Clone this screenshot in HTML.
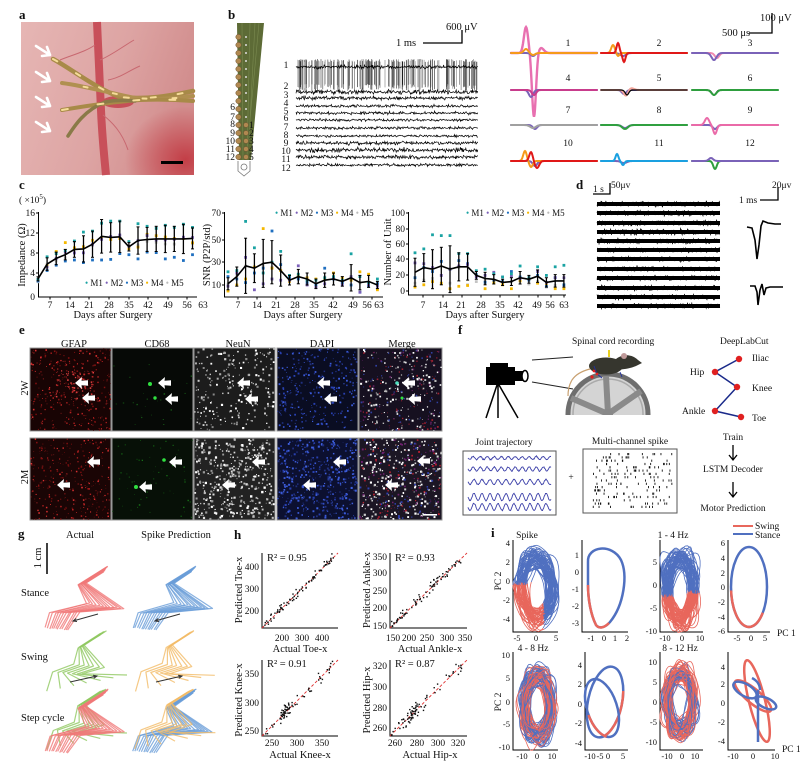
<!DOCTYPE html>
<html><head><meta charset="utf-8">
<style>
html,body{margin:0;padding:0;background:#fff;width:800px;height:772px;overflow:hidden}
svg{display:block}
text{font-family:"Liberation Serif",serif;fill:#111}
.t8{font-size:8.5px}.t9{font-size:9.5px}.t10{font-size:10.5px}
.lg{font-size:9px}
.pl{font-family:"Liberation Serif",serif;font-weight:bold;font-size:13px}
.m{text-anchor:middle}.e{text-anchor:end}
.ax{stroke:#000;stroke-width:1;fill:none}
</style></head><body>
<svg id="s" width="800" height="772" viewBox="0 0 800 772" xmlns="http://www.w3.org/2000/svg">
<defs>
<linearGradient id="pg" x1="0" y1="0" x2="1" y2="0.3"><stop offset="0" stop-color="#e6b6b4"/><stop offset="0.6" stop-color="#dda4a3"/><stop offset="1" stop-color="#d28e8e"/></linearGradient>
<radialGradient id="pr" cx="0.95" cy="0.9" r="0.35"><stop offset="0" stop-color="#c0303a" stop-opacity="0.85"/><stop offset="1" stop-color="#c0303a" stop-opacity="0"/></radialGradient>
<path id="ar" d="M0 0 L7 -6 L6.5 -2.2 L13 -2.8 L13 2.8 L6.5 2.2 L7 6 Z" fill="#fff"/>
<clipPath id="wc"><rect x="560" y="360" width="100" height="55"/></clipPath>
</defs>

<!-- panel a -->
<rect x="21" y="22" width="173" height="153" fill="url(#pg)"/>
<rect x="21" y="22" width="173" height="153" fill="url(#pr)"/>
<path d="M97 22 C99 60 100 90 101 110 C102 135 104 155 106 175" stroke="#c8505a" stroke-width="8" fill="none"/>
<ellipse cx="118" cy="102" rx="16" ry="6" fill="#c65058"/>
<path d="M100 60 C112 55 122 47 134 40 M103 115 C112 122 122 132 128 150 M95 45 C85 52 72 55 60 60 M108 80 C120 78 130 70 140 66" stroke="#c86870" stroke-width="1" fill="none"/>
<g fill="none" stroke-linecap="round">
<path d="M53 59 C70 68 95 88 120 97 C145 100 170 96 193 91" stroke="#a88a48" stroke-width="4.5"/>
<path d="M62 83 C85 86 110 93 135 98 C160 100 180 98 193 96" stroke="#b09050" stroke-width="4"/>
<path d="M62 110 C85 106 110 102 140 100 C165 99 180 100 193 101" stroke="#a88a48" stroke-width="4"/>
<path d="M68 136 C75 125 85 110 105 102 C115 100 125 100 135 101" stroke="#8a7a48" stroke-width="3.5"/>
<path d="M53 59 C70 68 95 88 120 97 C145 100 170 96 193 91" stroke="#f6dc98" stroke-width="2" stroke-dasharray="5 22"/>
<path d="M62 83 C85 86 110 93 135 98 C160 100 180 98 193 96" stroke="#f6dc98" stroke-width="2" stroke-dasharray="4 26" stroke-dashoffset="8"/>
<path d="M62 110 C85 106 110 102 140 100 C165 99 180 100 193 101" stroke="#f6dc98" stroke-width="2" stroke-dasharray="6 30"/>
</g>
<g stroke="#fff" stroke-width="2.6" fill="none" stroke-linecap="round" stroke-linejoin="round">
<path d="M36 46 L50 55 M42 56 L50 55 L47 47"/>
<path d="M36 72 L50 81 M42 82 L50 81 L47 73"/>
<path d="M36 97 L50 106 M42 107 L50 106 L47 98"/>
<path d="M36 122 L50 131 M42 132 L50 131 L47 123"/>
</g>
<rect x="161" y="161" width="22" height="3" fill="#000"/>

<!-- panel b probe -->
<polygon points="237,23 264,23 251,160 239,160" fill="#5d6b36"/>
<path d="M242 23 L243 160 M250 23 L247 160 M255 23 L249 140 M259 23 L250 120" stroke="#7a8a50" stroke-width="0.6"/>
<g fill="#b08850" stroke="#6a5030" stroke-width="0.5">
<circle cx="238.5" cy="37" r="2.7"/><circle cx="238.5" cy="45" r="2.7"/><circle cx="238.5" cy="53" r="2.7"/><circle cx="238.5" cy="61" r="2.7"/><circle cx="238.5" cy="69" r="2.7"/><circle cx="238.5" cy="77" r="2.7"/><circle cx="238.5" cy="85" r="2.7"/><circle cx="238.5" cy="93" r="2.7"/><circle cx="238.5" cy="101" r="2.7"/><circle cx="238.5" cy="109" r="2.7"/><circle cx="238.5" cy="117" r="2.7"/><circle cx="238.5" cy="125" r="2.7"/><circle cx="238.5" cy="133" r="2.7"/><circle cx="238.5" cy="141" r="2.7"/><circle cx="238.5" cy="149" r="2.7"/><circle cx="238.5" cy="157" r="2.7"/>
<circle cx="246" cy="125" r="2.5"/><circle cx="246" cy="133" r="2.5"/><circle cx="246" cy="141" r="2.5"/><circle cx="246" cy="149" r="2.5"/><circle cx="246" cy="157" r="2.5"/>
</g>
<g fill="#ddd"><circle cx="246" cy="37" r="1"/><circle cx="246" cy="45" r="1"/><circle cx="246" cy="53" r="1"/><circle cx="246" cy="61" r="1"/><circle cx="246" cy="69" r="1"/><circle cx="246" cy="77" r="1"/><circle cx="246" cy="85" r="1"/><circle cx="246" cy="93" r="1"/><circle cx="246" cy="101" r="1"/><circle cx="246" cy="109" r="1"/><circle cx="246" cy="117" r="1"/></g>
<path d="M238 161 L238 171 L244 176 L250 171 L250 161" fill="none" stroke="#777" stroke-width="0.8"/>
<circle cx="244" cy="167" r="3" fill="none" stroke="#777" stroke-width="0.8"/>
<path d="M423 43 L462 43 L462 30" stroke="#000" stroke-width="1.3" fill="none"/>
<path d="M749 33 L772 33 L772 13" stroke="#000" stroke-width="1.3" fill="none"/>

<!-- panel c axes -->
<g class="ax">
<path d="M38.5 212 L38.5 297 L197 297"/>
<path d="M36 213 L38.5 213 M36 233 L38.5 233 M36 253 L38.5 253 M36 273 L38.5 273 M50 297 V299.5 M70 297 V299.5 M89 297 V299.5 M109 297 V299.5 M129 297 V299.5 M148 297 V299.5 M168 297 V299.5 M187 297 V299.5"/>
<path d="M224.5 212 L224.5 297 L383 297"/>
<path d="M222 213 L224.5 213 M222 240 L224.5 240 M222 262 L224.5 262 M222 285 L224.5 285 M238 297 V299.5 M257 297 V299.5 M276 297 V299.5 M295 297 V299.5 M314 297 V299.5 M333 297 V299.5 M353 297 V299.5 M372 297 V299.5"/>
<path d="M408.5 212 L408.5 295 L566 295"/>
<path d="M406 213 L408.5 213 M406 229 L408.5 229 M406 244 L408.5 244 M406 259 L408.5 259 M406 275 L408.5 275 M406 291 L408.5 291 M423 295 V297.5 M443 295 V297.5 M462 295 V297.5 M481 295 V297.5 M500 295 V297.5 M519 295 V297.5 M538 295 V297.5 M551 295 V297.5 M564 295 V297.5"/>
</g>

<!-- panel d static -->
<g fill="#000">
<rect x="597" y="202" width="123" height="4"/><rect x="597" y="211" width="123" height="4"/><rect x="597" y="221" width="123" height="4"/><rect x="597" y="230" width="123" height="4"/><rect x="597" y="239" width="123" height="4"/><rect x="597" y="248" width="123" height="4"/><rect x="597" y="257" width="123" height="4"/><rect x="597" y="267" width="123" height="4"/><rect x="597" y="276" width="123" height="4"/><rect x="597" y="286" width="123" height="4"/><rect x="597" y="295" width="123" height="4"/><rect x="597" y="304" width="123" height="4"/>
</g>
<path d="M593 194 L610 194 L610 183 M760 200 L778 200 L778 187" stroke="#000" stroke-width="1.3" fill="none"/>
<path d="M747 227 L752 228 L755 240 L757 259 L759 245 L761 226 L763 221 L768 223 L775 224 L781 224" stroke="#000" stroke-width="1.6" fill="none"/>
<path d="M750 286 L755 286 L757 292 L758 305 L760 290 L762 284 L764 295 L766 288 L770 287 L783 287" stroke="#000" stroke-width="1.6" fill="none"/>

<!-- panel e backgrounds -->
<g stroke="#999" stroke-width="1">
<rect x="30" y="348" width="81" height="83" fill="#180404"/>
<rect x="112" y="348" width="81" height="83" fill="#060906"/>
<rect x="194" y="348" width="81" height="83" fill="#1c1c1c"/>
<rect x="277" y="348" width="81" height="83" fill="#0a0d22"/>
<rect x="359" y="348" width="83" height="83" fill="#161020"/>
<rect x="30" y="438" width="81" height="82" fill="#1a0505"/>
<rect x="112" y="438" width="81" height="82" fill="#071007"/>
<rect x="194" y="438" width="81" height="82" fill="#222"/>
<rect x="277" y="438" width="81" height="82" fill="#0c1030"/>
<rect x="359" y="438" width="83" height="82" fill="#1c1624"/>
</g>
<g id="eimg"></g>
<g fill="#30e040">
<circle cx="150" cy="384" r="2"/><circle cx="155" cy="398" r="1.7"/><circle cx="164" cy="460" r="1.8"/><circle cx="136" cy="487" r="2"/>
<circle cx="397" cy="383" r="1.8" fill="#50e0c0"/><circle cx="402" cy="398" r="1.5"/>
</g>
<g>
<use href="#ar" x="75" y="383"/><use href="#ar" x="82" y="398"/><use href="#ar" x="158" y="383"/><use href="#ar" x="165" y="399"/><use href="#ar" x="237" y="383"/><use href="#ar" x="245" y="399"/><use href="#ar" x="317" y="383"/><use href="#ar" x="324" y="399"/><use href="#ar" x="402" y="383"/><use href="#ar" x="408" y="399"/>
<use href="#ar" x="87" y="462"/><use href="#ar" x="57" y="485"/><use href="#ar" x="169" y="462"/><use href="#ar" x="139" y="487"/><use href="#ar" x="252" y="462"/><use href="#ar" x="222" y="485"/><use href="#ar" x="333" y="462"/><use href="#ar" x="303" y="485"/><use href="#ar" x="417" y="461"/><use href="#ar" x="385" y="485"/>
</g>
<rect x="423" y="514" width="14" height="1.6" fill="#fff"/>

<!-- panel f -->
<rect x="486" y="367" width="29" height="18" fill="#000"/>
<rect x="490" y="363" width="18" height="5" fill="#000"/>
<rect x="515" y="371" width="9" height="10" fill="#000"/>
<ellipse cx="525" cy="376" rx="3" ry="5.5" fill="#fff" stroke="#000" stroke-width="1.5"/>
<path d="M497 385 L486 418 M498 385 L498 418 M499 385 L518 418" stroke="#000" stroke-width="1.5"/>
<path d="M532 360 L573 357 M532 382 L573 389" stroke="#222" stroke-width="1"/>
<g clip-path="url(#wc)">
<circle cx="608" cy="414" r="38" fill="#d4d4d4"/>
<circle cx="608" cy="414" r="40" fill="none" stroke="#6e6e6e" stroke-width="5"/>
<circle cx="608" cy="414" r="35" fill="none" stroke="#aaa" stroke-width="1.5"/>
<path d="M608 414 L571 398 M608 414 L606 376 M608 414 L641 391" stroke="#8a8a8a" stroke-width="6"/>
<circle cx="608" cy="414" r="5" fill="#888"/>
</g>
<path d="M590 369 C582 371 576 374 572 380 C569 385 568 390 568 396" stroke="#c8a070" stroke-width="1.2" fill="none"/>
<ellipse cx="606" cy="366" rx="17" ry="8.5" fill="#36362e"/>
<path d="M616 359 C624 353 633 355 638 360 L642 363 L636 366 C629 369 621 370 615 369 Z" fill="#36362e"/>
<circle cx="624" cy="356" r="3" fill="#c09a9a"/>
<rect x="608" y="350" width="2" height="7" fill="#e8d020"/>
<path d="M594 366 L597 374 L602 378 M620 372 L622 377" stroke="#2030a0" stroke-width="0.9" fill="none"/>
<circle cx="592" cy="377" r="1.6" fill="#e02020"/><circle cx="594" cy="371" r="1.4" fill="#e02020"/><circle cx="597" cy="374" r="1.4" fill="#e02020"/>
<path d="M739 359 L715 372 L737 387 L715 411 L741 417" stroke="#1a2a8a" stroke-width="1.5" fill="none"/>
<g fill="#e02020"><circle cx="739" cy="359" r="3.2"/><circle cx="715" cy="372" r="3.2"/><circle cx="737" cy="387" r="3.2"/><circle cx="715" cy="411" r="3.2"/><circle cx="741" cy="417" r="3.2"/></g>
<path d="M733 445 L733 460 M729 455 L733 460 L737 455 M733 482 L733 497 M729 492 L733 497 L737 492" stroke="#000" stroke-width="1.3" fill="none"/>
<rect x="463" y="451" width="93" height="64" fill="#fff" stroke="#555" stroke-width="1"/>
<rect x="583" y="449" width="94" height="64" fill="#fff" stroke="#555" stroke-width="1"/>

<!-- panel g -->
<path d="M47 543 L47 574" stroke="#000" stroke-width="1.5"/>

<!-- panel h axes -->
<g class="ax">
<path d="M262 553 L262 628 L338 628"/>
<path d="M390 553 L390 628 L467 628"/>
<path d="M262 660 L262 736 L338 736"/>
<path d="M390 660 L390 736 L467 736"/>
</g>
<g stroke="#e03030" stroke-width="0.9" stroke-dasharray="3 2">
<path d="M262 628 L338 553"/><path d="M390 628 L467 553"/><path d="M262 736 L338 660"/><path d="M390 736 L467 660"/>
</g>

<!-- panel i axes -->
<g class="ax">
<path d="M513 540 L513 632 L558 632"/><path d="M582 540 L582 632 L628 632"/><path d="M660 540 L660 632 L703 632"/><path d="M728 540 L728 632 L770 632"/>
<path d="M513 652 L513 750 L558 750"/><path d="M585 652 L585 750 L628 750"/><path d="M660 652 L660 750 L703 750"/><path d="M728 652 L728 750 L775 750"/>
</g>
<g fill="none" stroke-width="2.5">
<path d="M588 562 C587 546 612 543 621 560 C628 575 624 605 610 622 C605 628 599 629 596 625 C591 615 588 600 588 585 Z" stroke="#5070c0"/>
<path d="M588 585 C588 600 591 615 596 625 C599 629 604 628 609 623" stroke="#e8675c"/>
<ellipse cx="749" cy="587" rx="18" ry="40" stroke="#5070c0"/>
<path d="M731.1 590.5 A18 40 0 0 0 762.8 612.7" stroke="#e8675c"/>
<ellipse cx="605" cy="702" rx="17" ry="36" transform="rotate(12 605 702)" stroke="#5070c0"/>
<ellipse cx="605" cy="702" rx="17" ry="36" transform="rotate(12 605 702)" stroke="#e8675c" stroke-dasharray="35 122 20"/>
<ellipse cx="602" cy="708" rx="15" ry="30" transform="rotate(-18 602 708)" stroke="#5070c0"/>
<ellipse cx="602" cy="708" rx="15" ry="30" transform="rotate(-18 602 708)" stroke="#e8675c" stroke-dasharray="0 41 29 79"/>
<ellipse cx="757" cy="701" rx="8" ry="42" transform="rotate(-14 757 701)" stroke="#e8675c"/>
<ellipse cx="753" cy="696" rx="23" ry="7" transform="rotate(40 753 696)" stroke="#e8675c"/>
<ellipse cx="745" cy="690" rx="13" ry="6" transform="rotate(30 745 690)" stroke="#5070c0"/>
<ellipse cx="766" cy="703" rx="11" ry="5" transform="rotate(25 766 703)" stroke="#5070c0"/>
<path d="M758 690 L758 742 M752 678 C756 680 760 684 760 690" stroke="#5070c0"/>
</g>
<path d="M733 526 L753 526" stroke="#e8675c" stroke-width="2"/>
<path d="M733 534 L753 534" stroke="#5070c0" stroke-width="2"/>

<g id="dyn"></g>

<!-- ============ TEXT ============ -->
<text x="19" y="19" class="pl">a</text>
<text x="228" y="19" class="pl">b</text>
<text x="19" y="189" class="pl">c</text>
<text x="576" y="189" class="pl">d</text>
<text x="19" y="334" class="pl">e</text>
<text x="458" y="334" class="pl">f</text>
<text x="18" y="538" class="pl">g</text>
<text x="234" y="539" class="pl">h</text>
<text x="491" y="537" class="pl">i</text>

<!-- b -->
<text x="446" y="30" class="t10">600 μV</text>
<text x="396" y="46" class="t10">1 ms</text>
<g class="t9 m">
<text x="286" y="68">1</text><text x="286" y="89">2</text><text x="286" y="98">3</text><text x="286" y="106">4</text><text x="286" y="114">5</text><text x="286" y="121">6</text><text x="286" y="130">7</text><text x="286" y="138">8</text><text x="286" y="146">9</text><text x="286" y="154">10</text><text x="286" y="162">11</text><text x="286" y="171">12</text>
</g>
<g class="t9 e">
<text x="235" y="110">6</text><text x="235" y="120">7</text><text x="235" y="127">8</text><text x="235" y="136">9</text><text x="235" y="144">10</text><text x="235" y="152">11</text><text x="235" y="160">12</text>
</g>
<g class="t9">
<text x="249" y="128">1</text><text x="249" y="136">2</text><text x="249" y="144">3</text><text x="249" y="152">4</text><text x="249" y="160">5</text>
</g>
<g class="t9 m">
<text x="568" y="46">1</text><text x="659" y="46">2</text><text x="750" y="46">3</text>
<text x="568" y="81">4</text><text x="659" y="81">5</text><text x="750" y="81">6</text>
<text x="568" y="113">7</text><text x="659" y="113">8</text><text x="750" y="113">9</text>
<text x="568" y="146">10</text><text x="659" y="146">11</text><text x="750" y="146">12</text>
</g>
<text x="760" y="21" class="t10">100 μV</text>
<text x="722" y="36" class="t10">500 μs</text>

<!-- c -->
<text x="19" y="203" class="t9">( ×10<tspan dy="-4" font-size="7">5</tspan><tspan dy="4">)</tspan></text>
<g class="t9 e">
<text x="35" y="216">16</text><text x="35" y="236">12</text><text x="35" y="256">8</text><text x="35" y="276">4</text><text x="35" y="300">0</text>
<text x="221" y="216">70</text><text x="221" y="243">50</text><text x="221" y="265">30</text><text x="221" y="288">10</text>
<text x="405" y="216">100</text><text x="405" y="232">80</text><text x="405" y="247">60</text><text x="405" y="262">40</text><text x="405" y="278">20</text><text x="405" y="294">0</text>
</g>
<g class="t9 m">
<text x="50" y="308">7</text><text x="70" y="308">14</text><text x="89" y="308">21</text><text x="109" y="308">28</text><text x="129" y="308">35</text><text x="148" y="308">42</text><text x="168" y="308">49</text><text x="187" y="308">56</text><text x="203" y="308">63</text>
<text x="238" y="308">7</text><text x="257" y="308">14</text><text x="276" y="308">21</text><text x="295" y="308">28</text><text x="314" y="308">35</text><text x="333" y="308">42</text><text x="353" y="308">49</text><text x="367" y="308">56</text><text x="379" y="308">63</text>
<text x="423" y="308">7</text><text x="443" y="308">14</text><text x="461" y="308">21</text><text x="481" y="308">28</text><text x="500" y="308">35</text><text x="518" y="308">42</text><text x="537" y="308">49</text><text x="550" y="308">56</text><text x="564" y="308">63</text>
</g>
<g class="t10 m">
<text x="113" y="318">Days after Surgery</text>
<text x="303" y="318">Days after Surgery</text>
<text x="485" y="318">Days after Surgery</text>
<text transform="translate(25,255) rotate(-90)">Impedance (Ω)</text>
<text transform="translate(210,255) rotate(-90)">SNR (P2P/std)</text>
<text transform="translate(391,252) rotate(-90)">Number of Unit</text>
</g>
<text x="85" y="286" class="lg"><tspan fill="#1aa3a3">•</tspan> M1 <tspan fill="#7b5fb8">•</tspan> M2 <tspan fill="#1f6fc0">•</tspan> M3 <tspan fill="#f5b800">•</tspan> M4 <tspan fill="#bbb">•</tspan> M5</text>
<text x="275" y="216" class="lg"><tspan fill="#1aa3a3">•</tspan> M1 <tspan fill="#7b5fb8">•</tspan> M2 <tspan fill="#1f6fc0">•</tspan> M3 <tspan fill="#f5b800">•</tspan> M4 <tspan fill="#bbb">•</tspan> M5</text>
<text x="466" y="216" class="lg"><tspan fill="#1aa3a3">•</tspan> M1 <tspan fill="#7b5fb8">•</tspan> M2 <tspan fill="#1f6fc0">•</tspan> M3 <tspan fill="#f5b800">•</tspan> M4 <tspan fill="#bbb">•</tspan> M5</text>

<!-- d -->
<text x="593" y="192" class="t9">1 s</text>
<text x="611" y="188" class="t9">50μv</text>
<text x="772" y="188" class="t9">20μv</text>
<text x="739" y="203" class="t9">1 ms</text>

<!-- e -->
<g class="t10 m">
<text x="74" y="347">GFAP</text><text x="157" y="347">CD68</text><text x="238" y="347">NeuN</text><text x="322" y="347">DAPI</text><text x="402" y="347">Merge</text>
<text transform="translate(28,388) rotate(-90)">2W</text>
<text transform="translate(28,477) rotate(-90)">2M</text>
</g>

<!-- f -->
<g class="t9">
<text x="572" y="344">Spinal cord recording</text>
<text x="720" y="344">DeepLabCut</text>
<text x="752" y="361">Iliac</text><text x="690" y="375">Hip</text><text x="752" y="391">Knee</text><text x="682" y="414">Ankle</text><text x="752" y="421">Toe</text>
</g>
<g class="t9 m">
<text x="733" y="440">Train</text><text x="733" y="472">LSTM Decoder</text><text x="733" y="511">Motor Prediction</text>
<text x="504" y="445">Joint trajectory</text><text x="630" y="444">Multi-channel spike</text>
<text x="571" y="480">+</text>
</g>

<!-- g -->
<g class="t10">
<text x="80" y="538" class="m">Actual</text><text x="176" y="538" class="m">Spike Prediction</text>
<text transform="translate(41,558) rotate(-90)" class="m">1 cm</text>
<text x="21" y="596">Stance</text><text x="21" y="660">Swing</text><text x="21" y="721">Step cycle</text>
</g>

<!-- h -->
<g class="t10">
<text x="267" y="561">R² = 0.95</text><text x="395" y="561">R² = 0.93</text><text x="267" y="667">R² = 0.91</text><text x="395" y="667">R² = 0.87</text>
</g>
<g class="t9 e">
<text x="259" y="570">400</text><text x="259" y="592">300</text><text x="259" y="614">200</text>
<text x="387" y="560">350</text><text x="387" y="576">300</text><text x="387" y="594">250</text><text x="387" y="611">200</text><text x="387" y="629">150</text>
<text x="259" y="677">350</text><text x="259" y="706">300</text><text x="259" y="734">250</text>
<text x="387" y="669">320</text><text x="387" y="690">300</text><text x="387" y="711">280</text><text x="387" y="731">260</text>
</g>
<g class="t9 m">
<text x="282" y="641">200</text><text x="302" y="641">300</text><text x="322" y="641">400</text>
<text x="393" y="641">150</text><text x="409" y="641">200</text><text x="427" y="641">250</text><text x="447" y="641">300</text><text x="465" y="641">350</text>
<text x="272" y="746">250</text><text x="297" y="746">300</text><text x="322" y="746">350</text>
<text x="395" y="746">260</text><text x="417" y="746">280</text><text x="438" y="746">300</text><text x="458" y="746">320</text>
</g>
<g class="t10 m">
<text x="300" y="652">Actual Toe-x</text><text x="430" y="652">Actual Ankle-x</text>
<text x="300" y="758">Actual Knee-x</text><text x="430" y="758">Actual Hip-x</text>
<text transform="translate(242,590) rotate(-90)">Predicted Toe-x</text>
<text transform="translate(370,590) rotate(-90)">Predicted Ankle-x</text>
<text transform="translate(242,700) rotate(-90)">Predicted Knee-x</text>
<text transform="translate(370,700) rotate(-90)">Predicted Hip-x</text>
</g>

<!-- i -->
<g class="t9">
<text x="755" y="529">Swing</text><text x="755" y="538">Stance</text>
<text x="527" y="538" class="m">Spike</text><text x="673" y="538" class="m">1 - 4 Hz</text>
<text x="533" y="651" class="m">4 - 8 Hz</text><text x="680" y="651" class="m">8 - 12 Hz</text>
<text transform="translate(501,581) rotate(-90)" class="m">PC 2</text>
<text transform="translate(501,702) rotate(-90)" class="m">PC 2</text>
<text x="777" y="636">PC 1</text><text x="782" y="752">PC 1</text>
</g>
<g class="t8 e">
<text x="510" y="546">4</text><text x="510" y="565">2</text><text x="510" y="584">0</text><text x="510" y="603">-2</text><text x="510" y="622">-4</text>
<text x="579" y="558">1</text><text x="579" y="575">0</text><text x="579" y="592">-1</text><text x="579" y="609">-2</text><text x="579" y="626">-3</text>
<text x="657" y="565">5</text><text x="657" y="588">0</text><text x="657" y="611">-5</text><text x="657" y="634">-10</text>
<text x="725" y="546">6</text><text x="725" y="561">4</text><text x="725" y="576">2</text><text x="725" y="590">0</text><text x="725" y="605">-2</text><text x="725" y="620">-4</text><text x="725" y="634">-6</text>
<text x="510" y="658">10</text><text x="510" y="681">5</text><text x="510" y="705">0</text><text x="510" y="727">-5</text><text x="510" y="750">-10</text>
<text x="582" y="668">4</text><text x="582" y="687">2</text><text x="582" y="707">0</text><text x="582" y="726">-2</text><text x="582" y="746">-4</text>
<text x="657" y="665">10</text><text x="657" y="685">5</text><text x="657" y="705">0</text><text x="657" y="725">-5</text><text x="657" y="745">-10</text>
<text x="725" y="670">4</text><text x="725" y="687">2</text><text x="725" y="706">0</text><text x="725" y="725">-2</text><text x="725" y="744">-4</text>
</g>
<g class="t8 m">
<text x="517" y="641">-5</text><text x="536" y="641">0</text><text x="556" y="641">5</text>
<text x="591" y="641">-1</text><text x="604" y="641">0</text><text x="615" y="641">1</text><text x="627" y="641">2</text>
<text x="665" y="641">-10</text><text x="682" y="641">0</text><text x="700" y="641">10</text>
<text x="737" y="641">-5</text><text x="751" y="641">0</text><text x="765" y="641">5</text>
<text x="522" y="759">-10</text><text x="537" y="759">0</text><text x="552" y="759">10</text>
<text x="590" y="759">-10</text><text x="600" y="759">-5</text><text x="608" y="759">0</text><text x="623" y="759">5</text>
<text x="667" y="759">-10</text><text x="682" y="759">0</text><text x="695" y="759">10</text>
<text x="733" y="759">-10</text><text x="753" y="759">0</text><text x="775" y="759">10</text>
</g>
</svg>
<script>
(function(){
const NS="http://www.w3.org/2000/svg";const D=document.getElementById('dyn');const EI=document.getElementById('eimg');
let sd=7;function R(){sd=(Math.imul(sd,1664525)+1013904223)>>>0;return sd/4294967296;}
function N(){return R()+R()+R()-1.5;}
function E(t,a,p){const e=document.createElementNS(NS,t);for(const k in a)e.setAttribute(k,a[k]);(p||D).appendChild(e);return e;}
function P(d,c,w,x){return E('path',Object.assign({d:d,fill:'none',stroke:c,'stroke-width':w},x||{}));}
function f(v){return v.toFixed(1);}

/* b traces */
for(let i=0;i<170;i++){const x=296+R()*182;const c=Math.floor(R()*170);E('line',{x1:f(x),x2:f(x),y1:f(59+R()*3),y2:f(84+R()*7),stroke:'rgb('+c+','+c+','+c+')','stroke-width':0.6});}
const bb=[67,92,98,106,113,120,128,136,143,150,157,165],ba=[1.2,1.6,1.3,1.0,1.0,0.9,0.9,0.8,1.3,1.6,1.2,1.0];
bb.forEach((b,k)=>{let d='';for(let x=296;x<=478;x+=0.6){d+=(d?'L':'M')+f(x)+' '+f(b+N()*ba[k]*1.4);}P(d,'#000',0.7);});

/* b waveforms */
function wf(x0,base,parts,c,w){let d='';for(let t=0;t<=86;t+=0.5){let y=base;for(const p of parts){y-=p[1]*Math.exp(-Math.pow((t-p[0])/p[2],2));}d+=(d?'L':'M')+f(x0+t)+' '+f(y);}P(d,c,w||2,{'stroke-linecap':'round'});}
const PU='#7a62b8',OR='#f59a1a',RD='#e01818',PK='#e870b0',GR='#2e9e3e';
wf(511,53,[[15,26,3],[23,-64,2.8],[30,5,4]],PK,2.4);
wf(511,53,[[22,-3,3]],PU);wf(511,53,[[15,4,3],[22,-2,3]],OR);
wf(601,53,[[22,-3,4]],PU);wf(601,53,[[12,8,2.5],[17,-3,2]],OR);wf(601,53,[[17,10,2],[23,-9,2]],RD);
wf(692,53,[[25,-5,3]],'#f08ab0');wf(692,53,[[22,-7,3.5]],PU);
wf(511,90,[[20,-7,3]],PU);wf(511,90,[[23,-5,3]],'#c83c8c');
wf(601,90,[[23,-4,3]],PU);wf(601,90,[[25,-6,3],[30,2,4]],'#f2a59a');wf(601,90,[[26,-5,2.5]],'#000',1.2);
wf(692,90,[[22,-5,3]],'#000',1.5);wf(692,90,[[22,-5,3.5]],GR);
wf(511,125,[[24,-4,3]],PU);wf(511,125,[[22,-3,4]],'#a0a0a0');
wf(601,125,[[24,-3,4]],PU);wf(601,125,[[24,-4,4]],'#30a040');
wf(692,125,[[23,-4,3]],PU);wf(692,125,[[15,7,3],[23,-9,2.5]],'#ea6aa8');
wf(511,161,[[24,-5,3]],PU);wf(511,161,[[14,10,2.5],[20,-6,2.5]],OR);wf(511,161,[[20,9,2.5],[26,-7,3]],RD);
wf(601,161,[[23,-2,4]],PU);wf(601,161,[[16,7,2],[22,-4,2]],'#1aa0e0');
wf(692,161,[[23,-8,2.5]],GR);wf(692,161,[[19,3,3]],PU);

/* c charts */
const MC=['#1aa3a3','#7b5fb8','#1f6fc0','#f5b800','#c4c4c4'];
function chart(x0,dx,yz,pp,m,s,ser){const n=m.length;
 for(let k=4;k>=0;k--)for(let i=0;i<n;i++){const v=ser[k][i];E('rect',{x:f(x0+i*dx-1.4),y:f(yz-v*pp-1.4),width:2.8,height:2.8,fill:MC[k]});}
 for(let i=0;i<n;i++){const x=x0+i*dx,y1=yz-(m[i]+s[i])*pp,y2=yz-(m[i]-s[i])*pp;
  E('line',{x1:f(x),x2:f(x),y1:f(y1),y2:f(y2),stroke:'#000','stroke-width':1.3});
  E('line',{x1:f(x-1.5),x2:f(x+1.5),y1:f(y1),y2:f(y1),stroke:'#000','stroke-width':1});
  E('line',{x1:f(x-1.5),x2:f(x+1.5),y1:f(y2),y2:f(y2),stroke:'#000','stroke-width':1});}
 let d='';m.forEach((v,i)=>{d+=(i?'L':'M')+f(x0+i*dx)+' '+f(yz-v*pp);});P(d,'#000',1.6);}
function near(m,a,o){return m.map(v=>Math.max(0.3,v+(o||0)+N()*a));}
const c1m=[3.4,6.2,7.3,8.0,9.0,9.1,10.0,11.5,11.3,11.4,9.5,10.7,10.9,11.0,11.0,11.0,11.0,11.1];
const c1s=[0.4,1.2,1.2,1.0,1.5,2.5,2.5,3.2,2.8,3.0,0.8,2.6,2.3,2.4,2.6,2.4,2.8,2.0];
const c1M4=near(c1m,1.2);c1M4[3]=10.3;
chart(38,9.09,296.7,5.25,c1m,c1s,[[3.3,7.6,8.2,8.8,10.6,12.3,12.5,14.0,14.4,14.4,10.5,13.9,13.4,13.0,13.6,13.2,13.8,13.2],near(c1m,0.8),[3.0,5.0,6.0,6.8,7.0,6.5,7.0,7.0,7.1,8.2,8.0,7.2,8.5,8.4,7.2,7.5,6.9,8.0],c1M4,near(c1m,0.8,-0.3)]);
const c2m=[11,17,26,24,28,29,22,14,17,15,11,14,15,13,16,12,13,10];
chart(228,8.79,297,1.2,c2m,[5,8,23,12,20,18,13,4,6,5,4,6,5,4,11,6,5,3],[[21,22,63,41,20,29,38,18,19,14,14,16,17,14,36,17,12,15],[9,20,33,6,11,15,14,14,26,10,8,11,16,10,17,4,10,9],[17,15,12,20,24,55,27,16,15,12,10,24,15,12,10,4,9,11],[5,10,15,25,57,24,22,13,18,16,15,15,20,16,14,21,19,6],near(c2m,3)]);
chart(415,8.76,291,0.78,[24,30,28,32,28,31,31,20,16,15,11,12,17,15,19,11,13,13],[18,18,25,24,30,18,17,5,8,6,4,5,8,5,8,6,8,8],[[49,54,72,71,71,48,48,26,28,22,18,22,32,17,31,20,31,33],[36,35,30,20,28,32,34,18,20,24,18,19,16,17,25,11,17,17],[17,30,25,38,28,39,35,21,11,14,12,25,18,14,20,6,17,8],[5,8,12,10,3,6,7,20,3,11,8,3,13,15,10,9,3,3],[10,14,16,20,10,30,8,12,14,12,10,12,13,9,12,5,7,4]]);

/* d traces */
[204,213,223,232,241,250,259,269,278,288,297,306].forEach((b,k)=>{let d='';const a=(k==3||k==4)?3.2:2.6;for(let x=597;x<=720;x+=0.4){d+=(d?'L':'M')+f(x)+' '+f(b+N()*a);}P(d,'#000',0.6);});

/* e speckles */
function sp(x,y,w,h,n,cols,s){for(let i=0;i<n;i++){const z=s*(0.5+R());E('rect',{x:f(x+R()*(w-z)),y:f(y+R()*(h-z)),width:f(z),height:f(z),fill:cols[(R()*cols.length)|0]},EI);}}
sp(30,348,81,83,320,['#801010','#b02020','#d83030','#601010'],1.1);sp(55,370,40,30,90,['#c02828','#e04040'],1.1);
sp(112,348,81,83,25,['#104010','#186018'],1);
sp(194,348,81,83,230,['#ffffff','#cccccc','#888888','#aaaaaa'],1.5);
sp(277,348,81,83,300,['#2840b0','#3a5ad8','#203080'],1.3);
sp(359,348,83,83,170,['#ffffff','#bbbbbb'],1.4);sp(359,348,83,83,180,['#a02030','#3040a0','#602060'],1.2);
sp(30,438,81,82,300,['#801010','#b02020','#d83030','#601010'],1.1);
sp(112,438,81,82,60,['#105010','#187018','#104010'],1);
sp(194,438,81,82,400,['#ffffff','#dddddd','#999999','#bbbbbb'],1.6);
sp(277,438,81,82,450,['#2840b0','#3a5ad8','#4060e0','#203080'],1.4);
sp(359,438,83,82,260,['#ffffff','#cccccc'],1.5);sp(359,438,83,82,230,['#b02030','#3040b0','#702070'],1.3);

/* f waves & raster */
[[458,1.5,7],[469,2,7],[482,2.5,8],[497,3.5,8],[507,3.5,8]].forEach(([y,a,p])=>{let d='';for(let x=468;x<=551;x+=0.5){d+=(d?'L':'M')+f(x)+' '+f(y+a*Math.sin((x-468)/p*6.283)+N()*0.5);}P(d,'#3b3fa8',0.9);});
for(let r=0;r<17;r++){const y=453+r*3.3;for(let i=0;i<15;i++){if(R()<0.7){const x=592+R()*80;E('rect',{x:f(x),y:f(y),width:0.9,height:2.2,fill:'#111'});}}}

/* g limbs */
function lerp(a,b,t){return a+(b-a)*t;}
function limbs(A,B,n,col,dx,dy){for(let i=0;i<n;i++){const t=i/(n-1);let d='';for(let j=0;j<A.length;j++){const x=lerp(A[j][0],B[j][0],t)+dx+N()*0.6,y=lerp(A[j][1],B[j][1],t)+dy+N()*0.6;d+=(j?'L':'M')+f(x)+' '+f(y);}P(d,col,1.2,{opacity:0.8,'stroke-linejoin':'round'});}}
/* stance: iliac, hip, knee, ankle, toe */
const SA=[[108,566],[78,585],[86,603],[50,613],[45,628]],SB=[[103,572],[86,583],[124,609],[80,612],[68,630]];
/* swing */
const WA=[[100,634],[78,648],[74,664],[53,672],[47,691]],WB=[[106,631],[84,645],[104,667],[82,674],[127,675]];
const SR='#f07878',SG='#90c860',SBl='#6a9ed8',SO='#f2bc68';
limbs(SA,SB,12,SR,0,0);limbs(WA,WB,7,SG,0,0);
limbs(SA,SB,12,SBl,88,0);limbs(WA,WB,7,SO,88,0);
limbs(WA,WB,7,SG,0,58);limbs(SA,SB,12,SR,0,123);
limbs(SA,SB,12,SBl,88,123);limbs(WA,WB,7,SO,88,58);
function arw(x1,y1,x2,y2){P('M'+x1+' '+y1+' L'+x2+' '+y2,'#333',1);const a=Math.atan2(y2-y1,x2-x1);const h=4;P('M'+f(x2-h*Math.cos(a-0.4))+' '+f(y2-h*Math.sin(a-0.4))+' L'+x2+' '+y2+' L'+f(x2-h*Math.cos(a+0.4))+' '+f(y2-h*Math.sin(a+0.4)),'#333',1);}
arw(98,614,73,621);arw(180,614,155,621);arw(70,682,97,676);arw(156,682,182,676);

/* h scatter */
function sc(ox,oy,W,H,n,nz,cl){for(let i=0;i<n;i++){let t=R()*0.92+0.02;if(cl&&R()<0.4)t=cl+N()*0.08;const px=ox+t*W+N()*1.5,py=oy-t*H+N()*nz;if(px>ox+1&&px<ox+W&&py<oy-1&&py>oy-H)E('rect',{x:f(px-0.7),y:f(py-0.7),width:1.4,height:1.4,fill:'#111'});}}
sc(262,628,76,75,80,4);sc(390,628,77,75,80,5);sc(262,736,76,76,80,6,0.3);sc(390,736,77,76,80,7,0.3);

/* i loops */
const IR='#e8675c',IB='#5070c0';
function loops(cx,cy,rx,ry,n,cf){for(let k=0;k<n;k++){const a=rx*(0.5+0.5*R()),b=ry*(0.55+0.45*R()),ox=cx+N()*rx*0.2,oy=cy+N()*ry*0.12,rot=N()*0.25,p1=R()*6.28,p2=R()*6.28;
 const pts=[];for(let i=0;i<=50;i++){const t=i/50*6.2832;const r=1+0.08*Math.sin(3*t+p1)+0.05*Math.sin(5*t+p2);const x0=a*Math.cos(t)*r,y0=b*Math.sin(t)*r;pts.push([ox+x0*Math.cos(rot)-y0*Math.sin(rot),oy+x0*Math.sin(rot)+y0*Math.cos(rot)]);}
 let cur=null,d='';for(let i=0;i<pts.length;i++){const c=cf(pts[i][0],pts[i][1],k);if(c!==cur){if(d&&cur)P(d,cur,0.8);d=i>0?'M'+f(pts[i-1][0])+' '+f(pts[i-1][1]):'M'+f(pts[i][0])+' '+f(pts[i][1]);cur=c;}d+='L'+f(pts[i][0])+' '+f(pts[i][1]);}
 if(d)P(d,cur,0.8);}}
loops(537,588,20,38,55,(x,y)=>(x<543&&y>582)?IR:IB);
loops(680,589,17,40,60,(x,y)=>(y>594)?IR:IB);
loops(537,705,17,40,70,(x,y,k)=>(k%2)?IR:IB);
loops(680,702,17,38,70,(x,y,k)=>(k%3==0)?IB:IR);
})();
</script>
</body></html>
